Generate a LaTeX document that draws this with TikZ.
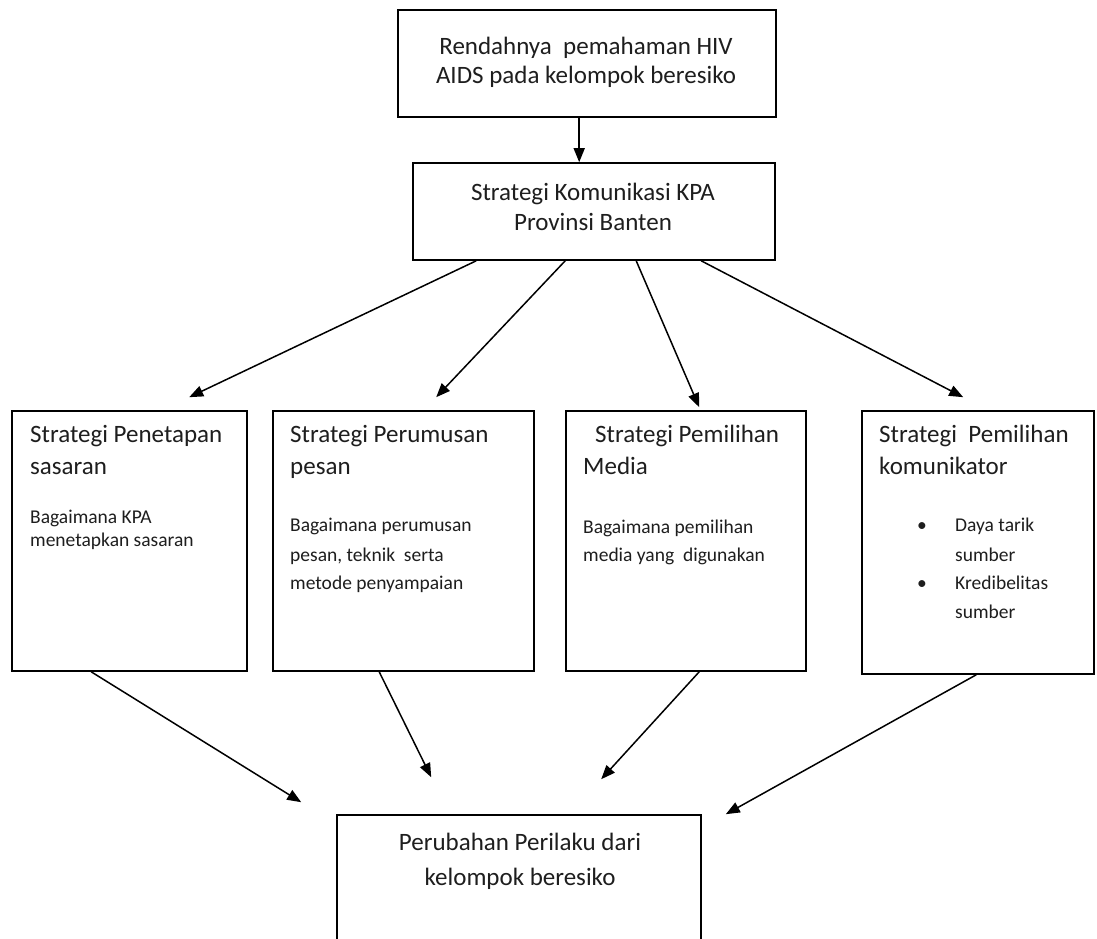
\documentclass[tikz,border=0pt]{standalone}
\usepackage{fontspec}
\setmainfont{Carlito}
\usetikzlibrary{arrows.meta,calc}
\definecolor{ink}{HTML}{1E1E1E}
\begin{document}
\begin{tikzpicture}[x=1pt,y=-1pt,
  box/.style={draw=black, line width=1.6pt, inner sep=0pt, rectangle},
  big/.style={font=\fontsize{25}{30}\selectfont, text=ink, inner sep=0pt},
  small/.style={font=\fontsize{19.5}{24}\selectfont, text=ink, inner sep=0pt},
  arr/.style={-{Triangle[length=14pt,width=11pt]}, line width=1.5pt}]
\useasboundingbox[fill=white] (0,0) rectangle (1097,939);

% boxes
\node[box, minimum width=378pt, minimum height=107pt] (top) at (587,63.5) {};
\node[box, minimum width=362pt, minimum height=97pt] (strat) at (594,211.5) {};
\node[box, minimum width=235pt, minimum height=260pt] (r1) at (129.5,541) {};
\node[box, minimum width=261pt, minimum height=260pt] (r2) at (403.5,541) {};
\node[box, minimum width=240pt, minimum height=260pt] (r3) at (686,541) {};
\node[box, minimum width=232pt, minimum height=263pt] (r4) at (978,542.5) {};
\node[box, minimum width=364pt, minimum height=150pt] (bot) at (519,890) {};

% texts
\node[big, anchor=base] (t1) at (586,55) {Rendahnya~ pemahaman HIV};
\node[big, anchor=base] (t2) at (586,84) {AIDS pada kelompok beresiko};
\node[big, anchor=base] (s1) at (593,200) {Strategi Komunikasi KPA};
\node[big, anchor=base] (s2) at (593,230) {Provinsi Banten};

\node[big, anchor=base west] (r1a) at (30,442) {Strategi Penetapan};
\node[big, anchor=base west] (r1b) at (30,474) {sasaran};
\node[small, anchor=base west] (r1c) at (30,523) {Bagaimana KPA};
\node[small, anchor=base west] (r1d) at (30,546) {menetapkan sasaran};

\node[big, anchor=base west] (r2a) at (290,442) {Strategi Perumusan};
\node[big, anchor=base west] (r2b) at (290,474) {pesan};
\node[small, anchor=base west] (r2c) at (290,531) {Bagaimana perumusan};
\node[small, anchor=base west] (r2d) at (290,561) {pesan, teknik~ serta};
\node[small, anchor=base west] (r2e) at (290,589) {metode penyampaian};

\node[big, anchor=base west] (r3a) at (595,442) {Strategi Pemilihan};
\node[big, anchor=base west] (r3b) at (583,474) {Media};
\node[small, anchor=base west] (r3c) at (583,533) {Bagaimana pemilihan};
\node[small, anchor=base west] (r3d) at (583,561) {media yang~ digunakan};

\node[big, anchor=base west] (r4a) at (879,442) {Strategi~ Pemilihan};
\node[big, anchor=base west] (r4b) at (879,474) {komunikator};
\node[small, anchor=base] (bl1) at (922,531) {•};
\node[small, anchor=base west] (r4c) at (955,531) {Daya tarik};
\node[small, anchor=base west] (r4d) at (955,561) {sumber};
\node[small, anchor=base] (bl2) at (922,589) {•};
\node[small, anchor=base west] (r4e) at (955,589) {Kredibelitas};
\node[small, anchor=base west] (r4f) at (955,618) {sumber};

\node[big, anchor=base] (b1) at (520,850) {Perubahan Perilaku dari};
\node[big, anchor=base] (b2) at (520,885) {kelompok beresiko};

% connectors
\draw[arr] ($(top.south west)+(182,0)$) -- ($(strat.north west)+(167,0)$);

\draw[arr] ($(strat.south west)+(64,0)$) -- ($(r1.north west)+(178,-13)$);
\draw[arr] ($(strat.south west)+(153,0)$) -- ($(r2.north west)+(164,-13)$);
\draw[arr] ($(strat.south west)+(224,0)$) -- ($(r3.north west)+(134,-3)$);
\draw[arr] ($(strat.south west)+(289,0)$) -- ($(r4.north west)+(102,-13)$);

\draw[arr] ($(r1.south west)+(80,0)$) -- ($(bot.north west)+(-35,-12)$);
\draw[arr] ($(r2.south west)+(107,0)$) -- ($(bot.north west)+(95,-37)$);
\draw[arr] ($(r3.south west)+(134,0)$) -- ($(bot.north west)+(265,-35)$);
\draw[arr] ($(r4.south west)+(115,0)$) -- ($(bot.north east)+(24,0)$);
\end{tikzpicture}
\end{document}
